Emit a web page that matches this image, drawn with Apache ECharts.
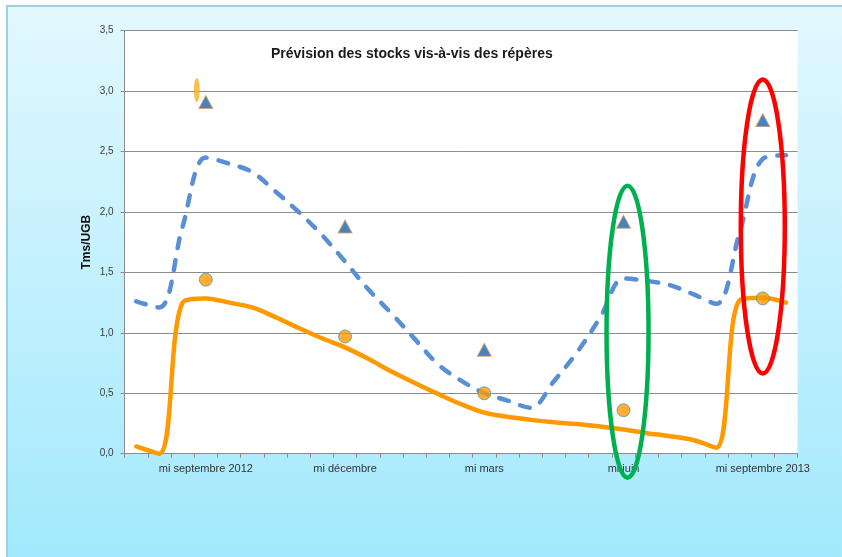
<!DOCTYPE html>
<html>
<head>
<meta charset="utf-8">
<script src="https://cdn.jsdelivr.net/npm/echarts@6/dist/echarts.min.js"></script>
<style>
html,body{margin:0;padding:0;background:#fff;overflow:hidden;width:842px;height:557px}
#bg{position:absolute;left:6px;top:5px;width:900px;height:552px;border-left:2px solid #9fd0e2;border-top:2px solid #9fd0e2;background:linear-gradient(#e2f8fe,#a2e9fd)}
#c{position:absolute;left:0;top:0;width:842px;height:557px}
</style>
</head>
<body>
<div id="bg"></div>
<div id="c"></div>
<script>
// Half-month periods (category axis)
const categories = [
  'début août 2012','mi août 2012','début septembre 2012','mi septembre 2012',
  'début octobre 2012','mi octobre','début novembre','mi novembre',
  'début décembre','mi décembre','début janvier','mi janvier',
  'début février','mi février','début mars','mi mars',
  'début avril','mi avril','début mai','mi mai',
  'début juin','mi juin','début juillet','mi juillet',
  'début août 2013','mi août 2013','début septembre 2013','mi septembre 2013',
  'début octobre 2013'
];
// Tick labels shown on the x axis
const tickLabels = ['mi septembre 2012','mi décembre','mi mars','mi juin','mi septembre 2013'];

// Forecast stock, solid orange line (Tms/UGB)
const stockOrange = [0.06,0.0,1.25,1.285,1.25,1.21,1.13,1.04,0.955,0.88,0.785,0.68,0.585,0.495,0.41,0.34,0.305,0.28,0.26,0.245,0.225,0.2,0.17,0.145,0.113,0.05,1.27,1.29,1.25];
// Forecast stock, dashed blue line (Tms/UGB)
const stockBlue = [1.26,1.21,1.88,2.45,2.40,2.33,2.17,2.00,1.81,1.59,1.36,1.16,0.95,0.74,0.605,0.50,0.44,0.38,0.60,0.84,1.13,1.45,1.43,1.395,1.32,1.24,1.83,2.44,2.47];

// Reference markers (répères) at the labelled dates
const repereTriangle = [2.91,1.88,0.86,1.92,2.76];
const repereCercle = [1.44,0.97,0.50,0.36,1.285];
// Small orange oval marker
const ovaleCat = ['mi septembre 2012'];
const ovaleVal = [3.01];
// Highlight rings (annotations)
const ringCats = ['mi juin','mi septembre 2013'];
const ringVals = [1.01,1.88];
const ringColors = ['#00b050','#ff0000'];

const yTicks = [0,0.5,1,1.5,2,2.5,3,3.5];

const chart = echarts.init(document.getElementById('c'), null, {renderer:'canvas'});
const ovalPath = 'path://M50,0 A50,50 0 1 1 49.99,0 Z';
const ringStyle = [
  {rx: 21, ry: 146, dx: 4},
  {rx: 22, ry: 147, dx: 0}
];
const FONT = '"Liberation Sans", Arial, sans-serif';

const option = {
  backgroundColor: 'transparent',
  animation: false,
  title: {
    text: 'Prévision des stocks vis-à-vis des répères',
    left: 271, top: 47, padding: 0,
    textStyle: {fontSize: 14, fontWeight: 'bold', color: '#1a1a1a', fontFamily: FONT}
  },
  grid: {
    left: 124.6, right: 44.4, top: 30.7, bottom: 103.3,
    show: true, backgroundColor: '#ffffff', borderWidth: 0
  },
  xAxis: {
    type: 'category',
    data: categories,
    boundaryGap: true,
    axisLine: {show: true, lineStyle: {color: '#8c8c8c', width: 1}},
    axisTick: {show: true, interval: 0, length: 4, lineStyle: {color: '#8c8c8c'}},
    axisLabel: {
      interval: (idx, val) => tickLabels.includes(val),
      margin: 10, fontSize: 11, color: '#333', fontFamily: FONT
    },
    splitLine: {show: false}
  },
  yAxis: {
    type: 'value',
    min: yTicks[0], max: yTicks[yTicks.length-1], interval: 0.5,
    name: 'Tms/UGB', nameLocation: 'middle', nameRotate: 90, nameGap: 32,
    nameMoveOverlap: false,
    nameTextStyle: {fontSize: 12, fontWeight: 'bold', color: '#111', fontFamily: FONT},
    axisLine: {show: true, lineStyle: {color: '#8c8c8c', width: 1}},
    axisTick: {show: true, length: 4, lineStyle: {color: '#8c8c8c'}},
    axisLabel: {
      margin: 11, fontSize: 10, color: '#404040', fontFamily: FONT,
      formatter: v => v.toFixed(1).replace('.', ',')
    },
    splitLine: {show: true, lineStyle: {color: '#8c8c8c', width: 1}}
  },
  series: [
    {
      name: 'Stock prévu (orange)', type: 'line', data: stockOrange,
      smooth: 0.35, showSymbol: false, z: 3,
      lineStyle: {color: '#ff9900', width: 4.5, cap: 'round', join: 'round'}
    },
    {
      name: 'Stock prévu (bleu)', type: 'line', data: stockBlue,
      smooth: 0.35, showSymbol: false, z: 3,
      lineStyle: {color: '#5a8fd6', width: 4.5, type: [10, 12], cap: 'round', join: 'round'}
    },
    {
      name: 'Repère haut', type: 'scatter', z: 4,
      data: tickLabels.map((c, i) => [c, repereTriangle[i]]),
      symbol: 'triangle', symbolSize: [14, 13],
      itemStyle: {color: '#1565b3', borderColor: '#e39a5c', borderWidth: 1}
    },
    {
      name: 'Repère bas', type: 'scatter', z: 4,
      data: tickLabels.map((c, i) => [c, repereCercle[i]]),
      symbol: 'circle', symbolSize: 13,
      itemStyle: {color: '#ff9900', borderColor: '#4b9fb3', borderWidth: 1}
    },
    {
      name: 'Ovale', type: 'scatter', z: 4,
      data: ovaleCat.map((c, i) => [c, ovaleVal[i]]),
      symbol: ovalPath, symbolSize: [6, 24], symbolOffset: [-9, 0],
      itemStyle: {color: '#f9b020', borderColor: '#ffd24a', borderWidth: 0}
    },
    {
      name: 'Cercles', type: 'custom', z: 10, clip: false, silent: true,
      encode: {x: 0, y: 1},
      data: ringCats.map((c, i) => [c, ringVals[i]]),
      renderItem: function (params, api) {
        const i = params.dataIndex;
        const p = api.coord([api.value(0), api.value(1)]);
        const s = ringStyle[i];
        return {
          type: 'ellipse',
          shape: {cx: p[0] + s.dx, cy: p[1], rx: s.rx, ry: s.ry},
          style: {fill: 'none', stroke: ringColors[i], lineWidth: 4.5}
        };
      }
    }
  ]
};
chart.setOption(option);
</script>
</body>
</html>
